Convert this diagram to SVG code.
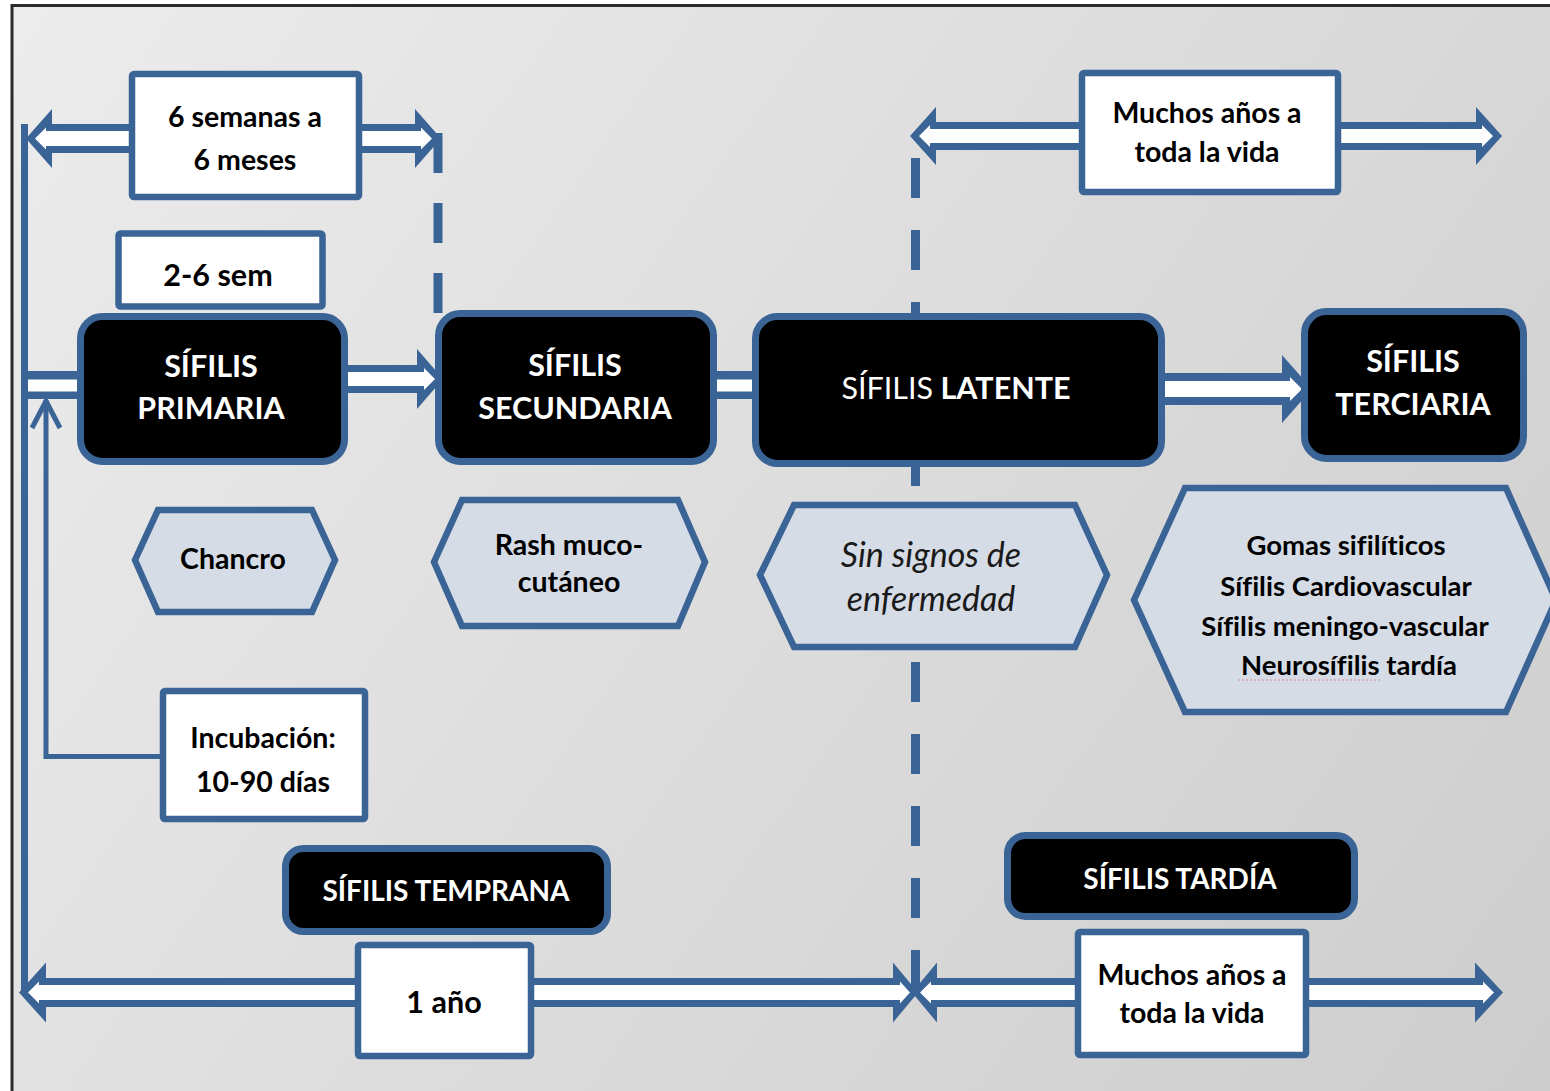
<svg xmlns="http://www.w3.org/2000/svg" width="1550" height="1091" viewBox="0 0 1550 1091">
  <defs>
    <linearGradient id="bg" gradientUnits="userSpaceOnUse" x1="12" y1="5" x2="1550" y2="1091">
      <stop offset="0" stop-color="#ececec"/>
      <stop offset="1" stop-color="#cdcdcd"/>
    </linearGradient>
    <style>
      .blue { fill: #3a6396; }
      .white { fill: #ffffff; }
      .stage { fill: #000000; stroke: #3a6396; stroke-width: 7; }
      .label { fill: #000000; stroke: #3a6396; stroke-width: 7; }
      .note { fill: #ffffff; stroke: #3a6396; stroke-width: 6.5; }
      .sign { fill: #d6dce6; stroke: #3a6396; stroke-width: 6.5; stroke-linejoin: miter; }
      .dash { stroke: #3a6396; stroke-width: 9; fill: none; }
      .thin { stroke: #3a6396; stroke-width: 5; fill: none; }
      text { font-family: Lato, "Liberation Sans", sans-serif; text-anchor: middle; font-variant-ligatures: none; font-feature-settings: "liga" 0, "clig" 0; }
      .wt { fill: #ffffff; font-weight: bold; font-size: 30.5px; }
      .wt.small { font-size: 28px; }
      .bt { fill: #000000; font-weight: bold; font-size: 28.5px; }
      .bt.big { font-size: 30.5px; }
      .it { fill: #1a1a1a; font-style: italic; font-weight: normal; font-size: 34px; }
      .lt { fill: #000000; font-weight: bold; font-size: 27.5px; }
    </style>
  </defs>

  <!-- page and frame -->
  <rect x="0" y="0" width="1550" height="1091" fill="#ffffff"/>
  <rect x="12" y="5.5" width="1560" height="1100" fill="url(#bg)" stroke="#2b2b2b" stroke-width="3"/>

  <g id="connectors">
    <!-- left timeline spine -->
    <rect class="blue" x="21" y="124" width="7" height="869"/>

    <!-- 6 semanas a 6 meses span -->
    <polygon class="blue" points="26,138.5 52,109 52,124 415,124 415,109 441,138.5 415,168 415,153 52,153 52,168"/>
    <polygon class="white" points="35,138.5 46,127.5 46,131 421,131 421,127.5 432,138.5 421,149.5 421,146 46,146 46,149.5"/>

    <!-- muchos años (top) span -->
    <polygon class="blue" points="910,136 936,107 936,122 1476,122 1476,107 1502,136 1476,165 1476,150 936,150 936,165"/>
    <polygon class="white" points="919,136 930,125 930,129 1482,129 1482,125 1493,136 1482,147 1482,143 930,143 930,147"/>

    <!-- 1 año span -->
    <polygon class="blue" points="19,992.5 46,962.5 46,978 893,978 893,962.5 918,992.5 893,1022.5 893,1007 46,1007 46,1022.5"/>
    <polygon class="white" points="28,992.5 39,981.5 39,985 900,985 900,981.5 910,992.5 900,1003.5 900,1000 39,1000 39,1003.5"/>

    <!-- muchos años (bottom) span -->
    <polygon class="blue" points="912,992.5 937,962.5 937,978 1475,978 1475,962.5 1503,992.5 1475,1022.5 1475,1007 937,1007 937,1022.5"/>
    <polygon class="white" points="920,992.5 931,981.5 931,985 1483,985 1483,981.5 1494,992.5 1483,1003.5 1483,1000 931,1000 931,1003.5"/>

    <!-- spine to primaria -->
    <rect class="blue" x="24" y="371" width="58" height="28"/>
    <rect class="white" x="28" y="379.5" width="54" height="12"/>

    <!-- primaria to secundaria -->
    <polygon class="blue" points="340,365 417,365 417,349 443,379 417,409 417,393 340,393"/>
    <polygon class="white" points="340,372 424,372 424,368 435,379 424,390 424,386 340,386"/>

    <!-- secundaria to latente -->
    <rect class="blue" x="710" y="371" width="50" height="28"/>
    <rect class="white" x="710" y="379.5" width="50" height="12"/>

    <!-- latente to terciaria -->
    <polygon class="blue" points="1158,373 1282,373 1282,355 1312,389 1282,423 1282,405 1158,405"/>
    <polygon class="white" points="1158,381 1290,381 1290,377 1302,389 1290,401 1290,397 1158,397"/>

    <!-- incubation pointer -->
    <polyline class="thin" points="163,756.5 46,756.5 46,400"/>
    <polyline class="thin" points="32,428 46,401 60,428" stroke-linejoin="miter"/>

    <!-- period boundaries -->
    <line class="dash" x1="438" y1="133" x2="438" y2="313" stroke-dasharray="40 30"/>
    <line class="dash" x1="915.5" y1="158" x2="915.5" y2="990" stroke-dasharray="40 32"/>
  </g>

  <g id="primaria">
    <rect class="stage" x="80.5" y="316.5" width="264" height="145" rx="22"/>
    <text class="wt" x="211" y="377">SÍFILIS</text>
    <text class="wt" x="211" y="419">PRIMARIA</text>
  </g>

  <g id="secundaria">
    <rect class="stage" x="438.5" y="313.5" width="275" height="148" rx="22"/>
    <text class="wt" x="575" y="376">SÍFILIS</text>
    <text class="wt" x="575" y="419">SECUNDARIA</text>
  </g>

  <g id="latente">
    <rect class="stage" x="755.5" y="316.5" width="406" height="147" rx="22"/>
    <text class="wt" x="956" y="399"><tspan font-weight="normal">SÍFILIS</tspan> LATENTE</text>
  </g>

  <g id="terciaria">
    <rect class="stage" x="1304.5" y="311.5" width="219" height="147" rx="22"/>
    <text class="wt" x="1413" y="372">SÍFILIS</text>
    <text class="wt" x="1413" y="415">TERCIARIA</text>
  </g>

  <g id="seis-semanas">
    <rect class="note" x="132" y="74" width="227" height="123" rx="2"/>
    <text class="bt" x="245" y="127">6 semanas a</text>
    <text class="bt" x="245" y="170">6 meses</text>
  </g>

  <g id="dos-seis-sem">
    <rect class="note" x="118.5" y="233.5" width="204" height="73" rx="2"/>
    <text class="bt big" x="218" y="286">2-6 sem</text>
  </g>

  <g id="muchos-anos-arriba">
    <rect class="note" x="1082" y="73" width="256" height="119" rx="2"/>
    <text class="bt" x="1207" y="123">Muchos años a</text>
    <text class="bt" x="1207" y="162">toda la vida</text>
  </g>

  <g id="incubacion">
    <rect class="note" x="163" y="691" width="202" height="128" rx="2"/>
    <text class="bt" x="263" y="748">Incubación:</text>
    <text class="bt" x="263" y="792">10-90 días</text>
  </g>

  <g id="chancro">
    <polygon class="sign" points="135,560 158,510 312,510 335,560 312,612 158,612"/>
    <text class="bt" x="233" y="569">Chancro</text>
  </g>

  <g id="rash">
    <polygon class="sign" points="434,562 462,500 678,500 705,562 678,626 462,626"/>
    <text class="bt" x="569" y="555">Rash muco-</text>
    <text class="bt" x="569" y="592">cutáneo</text>
  </g>

  <g id="sin-signos">
    <polygon class="sign" points="760,575 794,505 1075,505 1107,575 1075,647 794,647"/>
    <text class="it" x="931" y="567">Sin signos de</text>
    <text class="it" x="931" y="611">enfermedad</text>
  </g>

  <g id="manifestaciones-tardias">
    <polygon class="sign" points="1134,600 1185,488 1506,488 1556,600 1506,712 1185,712"/>
    <text class="lt" x="1346" y="555">Gomas sifilíticos</text>
    <text class="lt" x="1346" y="596">Sífilis Cardiovascular</text>
    <text class="lt" x="1345" y="636">Sífilis meningo-vascular</text>
    <text class="lt" x="1349" y="675">Neurosífilis tardía</text>
    <line x1="1238" y1="680" x2="1380" y2="680" stroke="#e06a6a" stroke-width="1.2" stroke-dasharray="2 2" opacity="0.7"/>
  </g>

  <g id="temprana">
    <rect class="label" x="285.5" y="848.5" width="322" height="83" rx="18"/>
    <text class="wt small" x="446" y="901">SÍFILIS TEMPRANA</text>
  </g>

  <g id="tardia">
    <rect class="label" x="1007.5" y="835.5" width="347" height="81" rx="18"/>
    <text class="wt small" x="1180" y="889">SÍFILIS TARDÍA</text>
  </g>

  <g id="un-ano">
    <rect class="note" x="358" y="945" width="173" height="111" rx="2"/>
    <text class="bt big" x="444" y="1013">1 año</text>
  </g>

  <g id="muchos-anos-abajo">
    <rect class="note" x="1078" y="932" width="228" height="123" rx="2"/>
    <text class="bt" x="1192" y="985">Muchos años a</text>
    <text class="bt" x="1192" y="1023">toda la vida</text>
  </g>
</svg>
